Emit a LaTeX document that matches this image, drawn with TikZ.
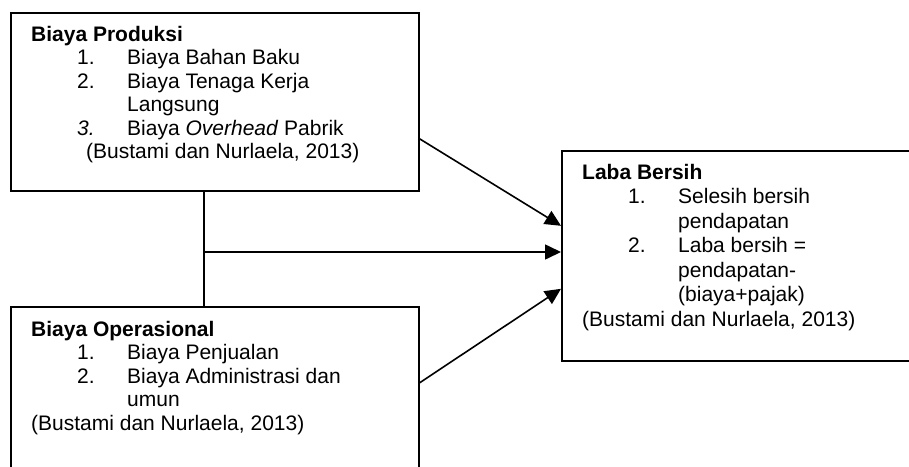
\documentclass[tikz,border=0pt]{standalone}
\usepackage{fontspec}
\setmainfont{Liberation Sans}
\usetikzlibrary{arrows.meta}

% numbered item and its continuation line
\newcommand{\numitem}[2]{\hspace*{46pt}\makebox[50pt][l]{#1}#2}
\newcommand{\contline}[1]{\hspace*{96pt}#1}

\begin{document}
\begin{tikzpicture}[x=1pt, y=-1pt,
  box/.style={draw, line width=1.6pt, rectangle, anchor=north west, inner sep=0pt},
  boxtext/.style={anchor=north west, align=left, inner sep=0pt, font=\fontsize{21}{23.5}\selectfont},
  arr/.style={line width=1.6pt, -{Triangle[length=16pt, width=15pt]}}]

% Fix the picture area
\clip (0,0) rectangle (909,466);

% Define the three boxes
\node[box, minimum width=408pt, minimum height=178pt] (prod) at (10,12) {};
\node[box, minimum width=408pt, minimum height=170pt] (ops) at (10,306) {};
\node[box, minimum width=360pt, minimum height=210pt] (laba) at (561,150) {};

% Texts inside the boxes
\node[boxtext] (prodtext) at (31,25.7) {\textbf{Biaya Produksi}\\
  \numitem{1.}{Biaya Bahan Baku}\\
  \numitem{2.}{Biaya Tenaga Kerja}\\
  \contline{Langsung}\\
  \numitem{\textit{3.}}{Biaya \textit{Overhead} Pabrik}\\
  \hspace*{55pt}(Bustami dan Nurlaela, 2013)};
\node[boxtext] (opstext) at (31,320.7) {\textbf{Biaya Operasional}\\
  \numitem{1.}{Biaya Penjualan}\\
  \numitem{2.}{Biaya Administrasi dan}\\
  \contline{umun}\\
  (Bustami dan Nurlaela, 2013)};
\node[boxtext, font=\fontsize{21}{24.5}\selectfont] (labatext) at (582,163.7) {\textbf{Laba Bersih}\\
  \numitem{1.}{Selesih bersih}\\
  \contline{pendapatan}\\
  \numitem{2.}{Laba bersih =}\\
  \contline{pendapatan-}\\
  \contline{(biaya+pajak)}\\
  (Bustami dan Nurlaela, 2013)};

% Joint of the two cost boxes
\coordinate (joint) at (204,252);
\draw[line width=1.6pt] (joint |- prod.south) -- (joint |- ops.north);

% Arrows to Laba Bersih
\draw[arr] (joint) -- (joint -| laba.west);
\draw[arr] ([yshift=-37pt]prod.east) -- ([yshift=30pt]laba.west);
\draw[arr] ([yshift=9pt]ops.east) -- ([yshift=-33pt]laba.west);

\end{tikzpicture}
\end{document}
